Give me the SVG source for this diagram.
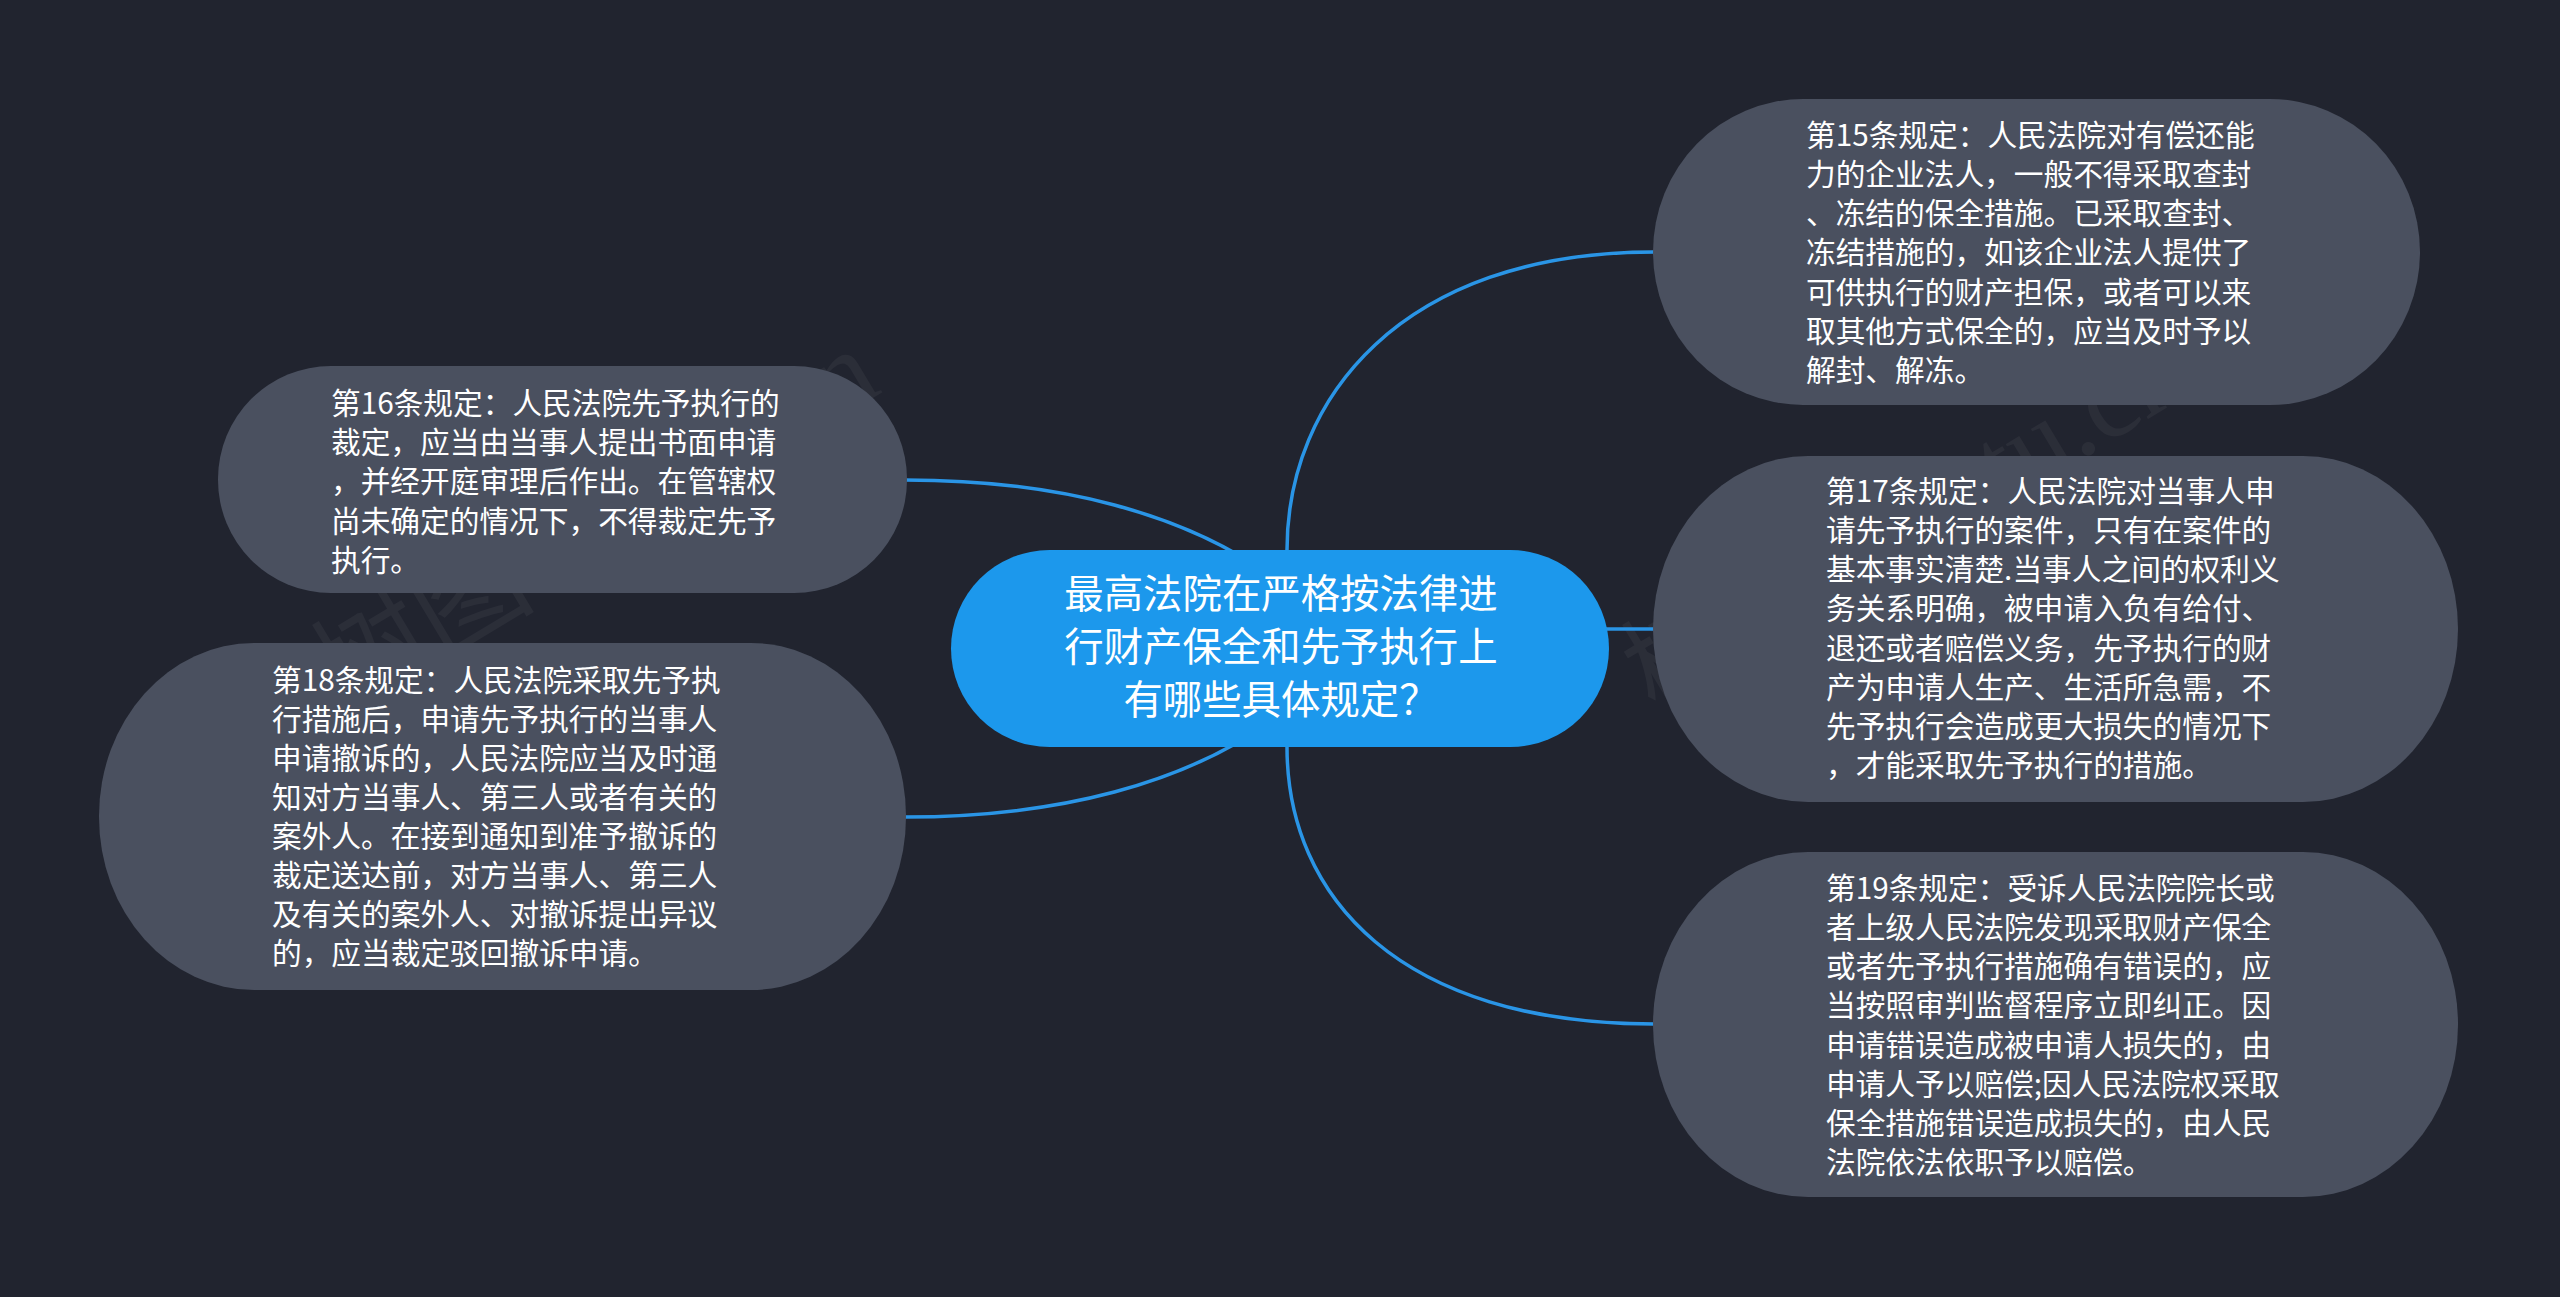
<svg xmlns="http://www.w3.org/2000/svg" width="2560" height="1297" viewBox="0 0 2560 1297">
<style>
.bg{fill:#21242f}
.sub{fill:#4a505f}
.root{fill:#1c98ec}
.link{fill:none;stroke:#2a95e6;stroke-width:3.5}
.t{font-family:"Noto Sans CJK SC","Noto Sans",sans-serif;fill:#ffffff}
.ts{font-size:29.7px}
.tr{font-size:39.4px;text-anchor:middle}
.wm{font-family:"Liberation Serif","Noto Sans CJK SC",serif;font-size:112px;fill:#ffffff;opacity:0.045}
</style>
<rect class="bg" x="0" y="0" width="2560" height="1297"/>
<g id="watermarks">
<text class="wm" transform="translate(345,715) rotate(-31)">树图 shutu.cn</text>
<text class="wm" transform="translate(1655,715) rotate(-31)">树图 shutu.cn</text>
</g>
<g id="connectors">
<path class="link" d="M1287,550 C1287,400 1400,252 1654,252"/>
<path class="link" d="M1600,629 L1656,629"/>
<path class="link" d="M1287,747 C1287,897 1400,1024 1654,1024"/>
<path class="link" d="M905,480 C1050,480 1190,510 1290,590"/>
<path class="link" d="M905,817 C1050,817 1190,787 1290,707"/>
</g>
<g id="node-root">
<rect class="root" x="951" y="550" width="658" height="197" rx="98.5" ry="98.5"/>
<text class="t tr"><tspan x="1281" y="608">最高法院在严格按法律进</tspan><tspan x="1281" y="661">行财产保全和先予执行上</tspan><tspan x="1281" y="714">有哪些具体规定？</tspan></text>
</g>
<g id="node-15">
<rect class="sub" x="1653" y="99" width="767" height="306" rx="150" ry="153"/>
<text class="t ts"><tspan x="1806" y="146">第15条规定：人民法院对有偿还能</tspan><tspan x="1806" y="185">力的企业法人，一般不得采取查封</tspan><tspan x="1806" y="224">、冻结的保全措施。已采取查封、</tspan><tspan x="1806" y="263">冻结措施的，如该企业法人提供了</tspan><tspan x="1806" y="303">可供执行的财产担保，或者可以来</tspan><tspan x="1806" y="342">取其他方式保全的，应当及时予以</tspan><tspan x="1806" y="381">解封、解冻。</tspan></text>
</g>
<g id="node-17">
<rect class="sub" x="1653" y="456" width="805" height="346" rx="155" ry="173"/>
<text class="t ts"><tspan x="1826" y="502">第17条规定：人民法院对当事人申</tspan><tspan x="1826" y="541">请先予执行的案件，只有在案件的</tspan><tspan x="1826" y="580">基本事实清楚.当事人之间的权利义</tspan><tspan x="1826" y="619">务关系明确，被申请入负有给付、</tspan><tspan x="1826" y="659">退还或者赔偿义务，先予执行的财</tspan><tspan x="1826" y="698">产为申请人生产、生活所急需，不</tspan><tspan x="1826" y="737">先予执行会造成更大损失的情况下</tspan><tspan x="1826" y="776">，才能采取先予执行的措施。</tspan></text>
</g>
<g id="node-19">
<rect class="sub" x="1653" y="852" width="805" height="345" rx="155" ry="172"/>
<text class="t ts"><tspan x="1826" y="899">第19条规定：受诉人民法院院长或</tspan><tspan x="1826" y="938">者上级人民法院发现采取财产保全</tspan><tspan x="1826" y="977">或者先予执行措施确有错误的，应</tspan><tspan x="1826" y="1016">当按照审判监督程序立即纠正。因</tspan><tspan x="1826" y="1056">申请错误造成被申请人损失的，由</tspan><tspan x="1826" y="1095">申请人予以赔偿;因人民法院权采取</tspan><tspan x="1826" y="1134">保全措施错误造成损失的，由人民</tspan><tspan x="1826" y="1173">法院依法依职予以赔偿。</tspan></text>
</g>
<g id="node-16">
<rect class="sub" x="218" y="366" width="689" height="227" rx="113" ry="113"/>
<text class="t ts"><tspan x="331" y="414">第16条规定：人民法院先予执行的</tspan><tspan x="331" y="453">裁定，应当由当事人提出书面申请</tspan><tspan x="331" y="492">，并经开庭审理后作出。在管辖权</tspan><tspan x="331" y="532">尚未确定的情况下，不得裁定先予</tspan><tspan x="331" y="571">执行。</tspan></text>
</g>
<g id="node-18">
<rect class="sub" x="99" y="643" width="807" height="347" rx="155" ry="173"/>
<text class="t ts"><tspan x="272" y="691">第18条规定：人民法院采取先予执</tspan><tspan x="272" y="730">行措施后，申请先予执行的当事人</tspan><tspan x="272" y="769">申请撤诉的，人民法院应当及时通</tspan><tspan x="272" y="808">知对方当事人、第三人或者有关的</tspan><tspan x="272" y="847">案外人。在接到通知到准予撤诉的</tspan><tspan x="272" y="886">裁定送达前，对方当事人、第三人</tspan><tspan x="272" y="925">及有关的案外人、对撤诉提出异议</tspan><tspan x="272" y="964">的，应当裁定驳回撤诉申请。</tspan></text>
</g>
</svg>
